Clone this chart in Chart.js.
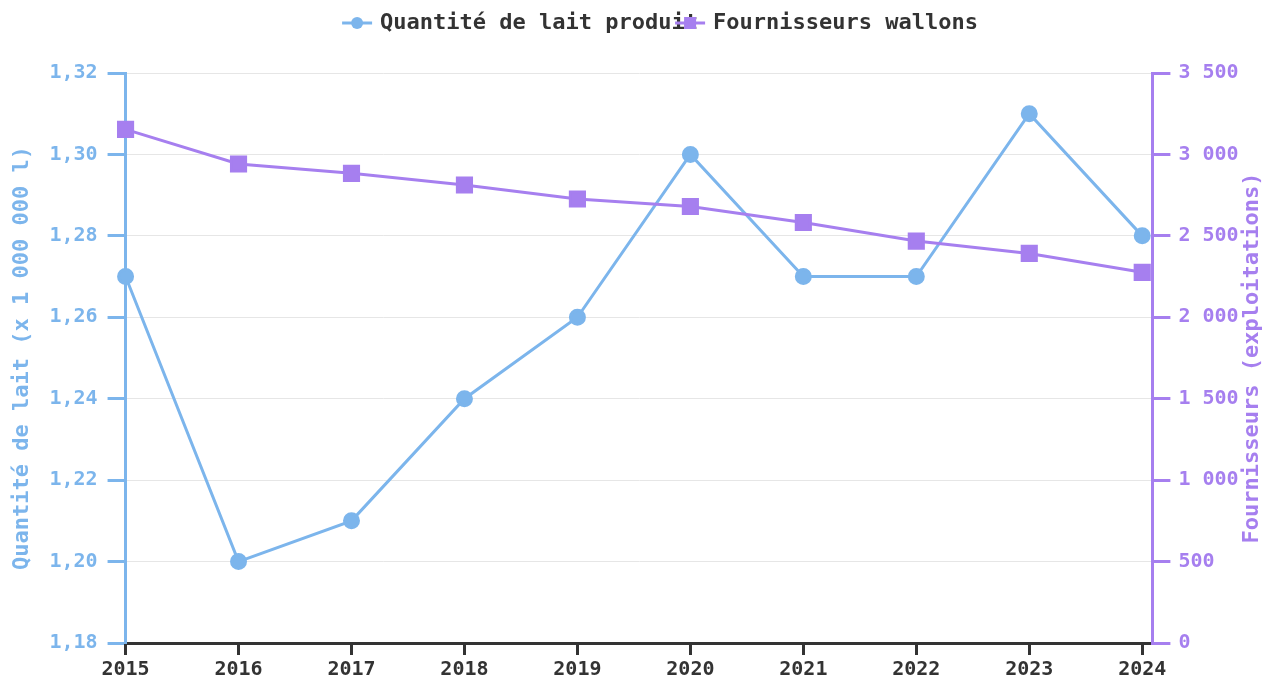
<!DOCTYPE html>
<html lang="fr">
<head>
<meta charset="utf-8">
<title>Lait produit et fournisseurs wallons</title>
<script src="https://cdn.jsdelivr.net/npm/chart.js@4.4.1/dist/chart.umd.min.js"></script>
<style>
  html, body { margin: 0; padding: 0; background: #fff; }
  canvas { display: block; }
</style>
</head>
<body>
<canvas id="laitChart" width="1273" height="682"></canvas>
<script>
// ===== data =====
const years = [2015, 2016, 2017, 2018, 2019, 2020, 2021, 2022, 2023, 2024];
const laitValues = [1.27, 1.20, 1.21, 1.24, 1.26, 1.30, 1.27, 1.27, 1.31, 1.28];
const fournisseursValues = [3154, 2941, 2884, 2812, 2726, 2680, 2582, 2468, 2392, 2276];
const laitTicks = [1.18, 1.20, 1.22, 1.24, 1.26, 1.28, 1.30, 1.32];
const fournisseursTicks = [0, 500, 1000, 1500, 2000, 2500, 3000, 3500];

const BLUE = '#7cb5ec';
const PURPLE = '#a67fef';
const DARK = '#333333';

Chart.defaults.font.family = '"DejaVu Sans Mono", monospace';
Chart.defaults.font.weight = 'bold';
Chart.defaults.font.size = 20;

// legend drawn by hand: spacing is measured at 20px but text is drawn at 22px,
// so the first label runs under the second marker like in the original
const overlapLegend = {
  id: 'overlapLegend',
  afterDraw(chart) {
    const ctx = chart.ctx;
    const items = chart.data.datasets;
    const y = 23;
    const gap = 6;
    ctx.save();
    ctx.font = 'bold 20px "DejaVu Sans Mono"';
    const widths = items.map(ds => 38 + ctx.measureText(ds.label).width);
    const total = widths.reduce((a, b) => a + b, 0) + gap * (items.length - 1);
    let x = 648 - total / 2;
    ctx.font = 'bold 22px "DejaVu Sans Mono"';
    ctx.textBaseline = 'middle';
    items.forEach((ds, i) => {
      ctx.strokeStyle = ds.borderColor;
      ctx.lineWidth = 3;
      ctx.beginPath();
      ctx.moveTo(x, y);
      ctx.lineTo(x + 30, y);
      ctx.stroke();
      ctx.fillStyle = ds.borderColor;
      if (ds.pointStyle === 'rect') {
        ctx.fillRect(x + 9, y - 6, 12, 12);
      } else {
        ctx.beginPath();
        ctx.arc(x + 15, y, 6, 0, Math.PI * 2);
        ctx.fill();
      }
      ctx.fillStyle = DARK;
      ctx.fillText(ds.label, x + 38, y);
      x += widths[i] + gap;
    });
    ctx.restore();
  }
};

// right axis title reads bottom-to-top in the original (Chart.js turns it the other way)
const rightTitle = {
  id: 'rightTitle',
  afterDraw(chart) {
    const s = chart.scales.y1;
    const ctx = chart.ctx;
    ctx.save();
    ctx.translate(s.right - 8 - 13.2, (s.top + s.bottom) / 2);
    ctx.rotate(-Math.PI / 2);
    ctx.font = 'bold 22px "DejaVu Sans Mono"';
    ctx.fillStyle = PURPLE;
    ctx.textAlign = 'center';
    ctx.textBaseline = 'middle';
    ctx.fillText(s.options.title.text, 0, 0);
    ctx.restore();
  }
};

const fmtLait = v => v.toFixed(2).replace('.', ',');
const fmtMilliers = v => String(Math.round(v)).replace(/\B(?=(\d{3})+(?!\d))/g, ' ');

new Chart(document.getElementById('laitChart'), {
  type: 'line',
  data: {
    datasets: [
      {
        label: 'Quantité de lait produit',
        data: years.map((yr, i) => ({ x: yr, y: laitValues[i] })),
        yAxisID: 'y',
        borderColor: BLUE,
        backgroundColor: BLUE,
        borderWidth: 3,
        pointStyle: 'circle',
        pointRadius: 7,
        pointHoverRadius: 7,
        tension: 0,
        clip: false,
        order: 1
      },
      {
        label: 'Fournisseurs wallons',
        data: years.map((yr, i) => ({ x: yr, y: fournisseursValues[i] })),
        yAxisID: 'y1',
        borderColor: PURPLE,
        backgroundColor: PURPLE,
        borderWidth: 3,
        pointStyle: 'rect',
        pointRadius: 10,
        pointHoverRadius: 10,
        tension: 0,
        clip: false,
        order: 0
      }
    ]
  },
  options: {
    responsive: false,
    animation: false,
    devicePixelRatio: 1,
    layout: { padding: { top: 73, left: 0, right: 0, bottom: -3 } },
    plugins: {
      legend: { display: false },
      tooltip: { enabled: false }
    },
    scales: {
      x: {
        type: 'linear',
        min: 2015,
        max: 2024.09,
        afterBuildTicks: s => { s.ticks = years.map(v => ({ value: v })); },
        ticks: { callback: v => String(v), color: DARK, font: { size: 20 }, padding: 3, maxRotation: 0, autoSkip: false },
        grid: { drawOnChartArea: false, color: DARK, tickLength: 12, lineWidth: 3 },
        border: { color: DARK, width: 3 }
      },
      y: {
        position: 'left',
        min: 1.18,
        max: 1.32,
        afterBuildTicks: s => { s.ticks = laitTicks.map(v => ({ value: v })); },
        ticks: { callback: fmtLait, color: BLUE, font: { size: 20 }, padding: 10 },
        grid: { color: '#e6e6e6', lineWidth: 1, tickColor: BLUE, tickLength: 18, tickWidth: 3 },
        border: { color: BLUE, width: 3 },
        title: {
          display: true,
          text: 'Quantité de lait (x 1 000 000 l)',
          color: BLUE,
          font: { size: 22 },
          padding: { top: 9, bottom: 4 }
        }
      },
      y1: {
        position: 'right',
        min: 0,
        max: 3500,
        afterBuildTicks: s => { s.ticks = fournisseursTicks.map(v => ({ value: v })); },
        ticks: { callback: fmtMilliers, color: PURPLE, font: { size: 20 }, padding: 8 },
        grid: { drawOnChartArea: false, color: PURPLE, tickLength: 18, lineWidth: 3 },
        border: { color: PURPLE, width: 3 },
        title: {
          display: true,
          text: 'Fournisseurs (exploitations)',
          color: 'transparent',
          font: { size: 22 },
          padding: { top: 8, bottom: -8 }
        }
      }
    }
  },
  plugins: [overlapLegend, rightTitle]
});
</script>
</body>
</html>
